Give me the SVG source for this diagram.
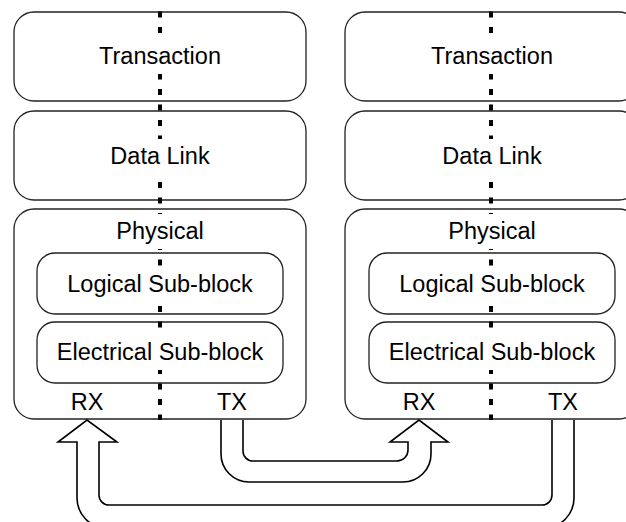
<svg xmlns="http://www.w3.org/2000/svg" width="626" height="522" viewBox="0 0 626 522">
<style>
.box{fill:#fff;stroke:#222;stroke-width:1.3}
.lbl{font-family:"Liberation Sans",Arial,sans-serif;font-size:23.5px;fill:#000;text-anchor:middle}
.div{stroke:#000;stroke-width:4;stroke-dasharray:6 9.5;fill:none}
.arr{fill:#fff;stroke:#000;stroke-width:1.6;stroke-linejoin:miter}
</style>
<defs>
<mask id="lblmask" maskUnits="userSpaceOnUse" x="0" y="0" width="626" height="522">
<rect x="0" y="0" width="626" height="522" fill="#fff"/>
<rect x="140" y="39" width="40" height="35" fill="#000"/>
<rect x="140" y="139" width="40" height="35" fill="#000"/>
<rect x="140" y="214" width="40" height="35" fill="#000"/>
<rect x="140" y="267" width="40" height="35" fill="#000"/>
<rect x="140" y="335" width="40" height="35" fill="#000"/>
<rect x="471" y="39" width="40" height="35" fill="#000"/>
<rect x="471" y="139" width="40" height="35" fill="#000"/>
<rect x="471" y="214" width="40" height="35" fill="#000"/>
<rect x="471" y="267" width="40" height="35" fill="#000"/>
<rect x="471" y="335" width="40" height="35" fill="#000"/>
</mask>
</defs>
<rect x="0" y="0" width="626" height="522" fill="#fff"/>

<g id="left-transaction"><rect class="box" x="14" y="12" width="292" height="89" rx="20"/><text class="lbl" x="160" y="64">Transaction</text></g>
<g id="left-datalink"><rect class="box" x="14" y="111" width="292" height="89" rx="20"/><text class="lbl" x="160" y="164">Data Link</text></g>
<g id="left-physical"><rect class="box" x="14" y="209" width="292" height="210" rx="20"/><text class="lbl" x="160" y="239">Physical</text><text class="lbl" x="87" y="410">RX</text><text class="lbl" x="232" y="410">TX</text></g>
<g id="left-logical"><rect class="box" x="37" y="253" width="246" height="61" rx="18"/><text class="lbl" x="160" y="292">Logical Sub-block</text></g>
<g id="left-electrical"><rect class="box" x="37" y="322" width="246" height="61" rx="18"/><text class="lbl" x="160" y="360">Electrical Sub-block</text></g>

<g id="right-transaction"><rect class="box" x="345" y="12" width="294" height="89" rx="20"/><text class="lbl" x="492" y="64">Transaction</text></g>
<g id="right-datalink"><rect class="box" x="345" y="111" width="294" height="89" rx="20"/><text class="lbl" x="492" y="164">Data Link</text></g>
<g id="right-physical"><rect class="box" x="345" y="209" width="294" height="210" rx="20"/><text class="lbl" x="492" y="239">Physical</text><text class="lbl" x="419" y="410">RX</text><text class="lbl" x="563" y="410">TX</text></g>
<g id="right-logical"><rect class="box" x="369" y="253" width="246" height="61" rx="18"/><text class="lbl" x="492" y="292">Logical Sub-block</text></g>
<g id="right-electrical"><rect class="box" x="369" y="322" width="246" height="61" rx="18"/><text class="lbl" x="492" y="360">Electrical Sub-block</text></g>

<g id="dividers" mask="url(#lblmask)">
<line class="div" x1="160" y1="11.5" x2="160" y2="420"/>
<line class="div" x1="491" y1="11.5" x2="491" y2="420"/>
</g>

<g id="connectors">
<path class="arr" d="M221,420 V454 A28,28 0 0 0 249,482 H403 A28,28 0 0 0 431,454 V442 H448 L419,420 L390,442 H408 V450 A11,11 0 0 1 397,461 H253 A10,10 0 0 1 243,451 V420"/>
<path class="arr" d="M552,420 V495 A10,10 0 0 1 542,505 H109 A10,10 0 0 1 99,495 V442 H117 L87,420 L58,442 H77 V498 A30,30 0 0 0 107,528 H544 A30,30 0 0 0 574,498 V420"/>
</g>
</svg>
